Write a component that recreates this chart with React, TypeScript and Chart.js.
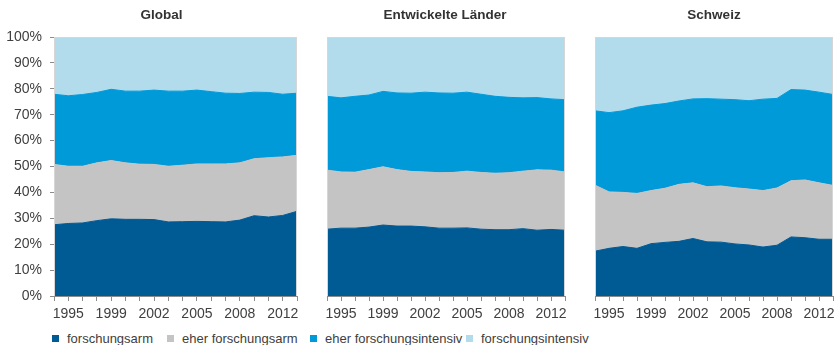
import React, { useEffect, useRef } from "react";
import { Chart, registerables } from "chart.js";
Chart.register(...registerables);

// ---- data ----
const years = [
  "1994", "1995", "1997", "1998", "1999", "2000", "2001", "2002", "2003",
  "2004", "2005", "2006", "2007", "2008", "2010", "2011", "2012", "2013",
];

const seriesNames = [
  "forschungsarm",
  "eher forschungsarm",
  "eher forschungsintensiv",
  "forschungsintensiv",
];
const seriesColors = ["#005A94", "#C4C4C4", "#009AD9", "#B2DCEC"];

const globalArm = [27.5, 28.0, 28.2, 29.1, 29.8, 29.6, 29.6, 29.5, 28.6, 28.7, 28.8, 28.7, 28.6, 29.3, 31.0, 30.5, 31.1, 32.7];
const globalEherArm = [23.3, 22.1, 21.9, 22.3, 22.5, 21.8, 21.3, 21.3, 21.5, 21.8, 22.2, 22.3, 22.4, 22.1, 22.0, 22.9, 22.6, 21.6];
const globalEherIntensiv = [27.1, 27.2, 27.7, 27.2, 27.5, 27.7, 28.2, 28.7, 29.0, 28.6, 28.5, 27.9, 27.3, 26.8, 25.7, 25.2, 24.2, 24.0];
const globalIntensiv = [22.1, 22.7, 22.2, 21.4, 20.2, 20.9, 20.9, 20.5, 20.9, 20.9, 20.5, 21.1, 21.7, 21.8, 21.3, 21.4, 22.1, 21.7];

const entwArm = [25.8, 26.2, 26.2, 26.6, 27.4, 27.0, 27.0, 26.7, 26.2, 26.2, 26.3, 25.8, 25.6, 25.6, 26.0, 25.4, 25.7, 25.4];
const entwEherArm = [22.8, 21.7, 21.6, 22.2, 22.5, 21.8, 21.1, 21.2, 21.4, 21.5, 21.9, 21.9, 21.8, 22.0, 22.2, 23.3, 22.9, 22.5];
const entwEherIntensiv = [28.5, 28.6, 29.3, 28.8, 29.1, 29.6, 30.2, 30.8, 30.8, 30.6, 30.5, 30.2, 29.7, 29.1, 28.3, 27.9, 27.5, 27.9];
const entwIntensiv = [22.9, 23.5, 22.9, 22.4, 21.0, 21.6, 21.7, 21.3, 21.6, 21.7, 21.3, 22.1, 22.9, 23.3, 23.5, 23.4, 23.9, 24.2];

const chArm = [17.3, 18.4, 19.1, 18.4, 20.2, 20.7, 21.1, 22.2, 20.9, 20.8, 20.1, 19.7, 18.9, 19.6, 22.8, 22.5, 21.9, 21.9];
const chEherArm = [25.5, 21.8, 20.9, 21.2, 20.5, 20.9, 22.0, 21.5, 21.3, 21.7, 21.7, 21.6, 21.8, 22.1, 21.7, 22.3, 21.8, 20.8];
const chEherIntensiv = [28.7, 30.6, 31.5, 33.3, 33.0, 32.7, 32.2, 32.4, 34.0, 33.5, 34.0, 34.1, 35.3, 34.6, 35.2, 34.7, 35.0, 35.1];
const chIntensiv = [28.5, 29.2, 28.5, 27.1, 26.3, 25.7, 24.7, 23.9, 23.8, 24.0, 24.2, 24.6, 24.0, 23.7, 20.3, 20.5, 21.3, 22.2];

const panelTitles = ["Global", "Entwickelte Länder", "Schweiz"];
const yTickLabels = (v: number) => v + "%";

const FONT = "'Liberation Sans', Arial, sans-serif";
const TEXT = "#404040";
const AXIS = "#8C8C8C";

const framePlugin = {
  id: "frame",
  afterDatasetsDraw(chart: any) {
    const { ctx, chartArea: a } = chart;
    ctx.save();
    ctx.strokeStyle = "#D6D6D6";
    ctx.lineWidth = 1;
    ctx.beginPath();
    ctx.moveTo(Math.round(a.left) + 0.5, a.bottom);
    ctx.lineTo(Math.round(a.left) + 0.5, Math.round(a.top) + 0.5);
    ctx.lineTo(Math.round(a.right) - 0.5, Math.round(a.top) + 0.5);
    ctx.lineTo(Math.round(a.right) - 0.5, a.bottom);
    ctx.stroke();
    ctx.restore();
  },
};

type PanelProps = {
  title: string;
  left: number;
  width: number;
  titleCenter: number;
  showY: boolean;
  series: number[][];
};

function Panel({ title, left, width, titleCenter, showY, series }: PanelProps) {
  const ref = useRef<HTMLCanvasElement | null>(null);
  useEffect(() => {
    if (!ref.current) return;
    const chart = new Chart(ref.current, {
      type: "line",
      data: {
        labels: years,
        datasets: series.map((d, i) => ({
          label: seriesNames[i],
          data: d,
          backgroundColor: seriesColors[i],
          borderColor: seriesColors[i],
          borderWidth: 1,
          pointRadius: 0,
          tension: 0,
          fill: i === 0 ? "origin" : "-1",
        })),
      },
      plugins: [framePlugin],
      options: {
        animation: false,
        responsive: false,
        devicePixelRatio: 1,
        events: [],
        layout: { padding: { top: 37, right: 2, bottom: 0, left: showY ? 0 : 7 } },
        plugins: {
          legend: { display: false },
          title: { display: false },
          tooltip: { enabled: false },
        },
        scales: {
          x: {
            type: "category",
            offset: false,
            z: 1,
            grid: { drawOnChartArea: false, drawTicks: true, tickLength: 5, color: AXIS },
            border: { display: true, color: AXIS },
            ticks: {
              autoSkip: false,
              maxRotation: 0,
              padding: 5,
              color: TEXT,
              font: { family: FONT, size: 14 },
              callback: function (this: any, value: any, index: number) {
                return index % 3 === 1 ? this.getLabelForValue(value) : "";
              },
            },
            afterFit: (s: any) => {
              s.height = 30;
            },
          },
          y: {
            display: showY,
            stacked: true,
            min: 0,
            max: 100,
            z: 1,
            grid: { drawOnChartArea: false, drawTicks: true, tickLength: 4, color: AXIS },
            border: { display: true, color: AXIS },
            ticks: {
              stepSize: 10,
              padding: 8,
              color: TEXT,
              font: { family: FONT, size: 14 },
              callback: (v: any) => yTickLabels(v),
            },
            afterFit: (s: any) => {
              s.width = showY ? 54 : 0;
            },
          },
        },
      },
    });
    return () => chart.destroy();
  }, []);
  return (
    <>
      <canvas
        ref={ref}
        width={width}
        height={326}
        style={{ position: "absolute", left, top: 0, width, height: 326 }}
      />
      <div
        style={{
          position: "absolute",
          left: titleCenter,
          top: 7,
          transform: "translateX(-50%)",
          whiteSpace: "nowrap",
          font: `bold 13.5px ${FONT}`,
          lineHeight: "16px",
          color: "#333333",
        }}
      >
        {title}
      </div>
    </>
  );
}

const legendLefts = [52, 167, 310, 466];

export default function App() {
  return (
    <div
      style={{
        position: "absolute",
        left: 0,
        top: 0,
        width: 839,
        height: 345,
        background: "#ffffff",
        overflow: "hidden",
      }}
    >
      <Panel
        title={panelTitles[0]}
        left={0}
        width={302}
        titleCenter={161.5}
        showY={true}
        series={[globalArm, globalEherArm, globalEherIntensiv, globalIntensiv]}
      />
      <Panel
        title={panelTitles[1]}
        left={320}
        width={250}
        titleCenter={445}
        showY={false}
        series={[entwArm, entwEherArm, entwEherIntensiv, entwIntensiv]}
      />
      <Panel
        title={panelTitles[2]}
        left={588}
        width={250}
        titleCenter={714}
        showY={false}
        series={[chArm, chEherArm, chEherIntensiv, chIntensiv]}
      />
      {seriesNames.map((name, i) => (
        <div
          key={name}
          style={{
            position: "absolute",
            left: legendLefts[i],
            top: 331,
            display: "flex",
            alignItems: "center",
            whiteSpace: "nowrap",
            font: `13px ${FONT}`,
            lineHeight: "15px",
            color: TEXT,
          }}
        >
          <span
            style={{
              display: "inline-block",
              width: 7,
              height: 7,
              background: seriesColors[i],
              marginRight: 8,
            }}
          />
          {name}
        </div>
      ))}
    </div>
  );
}
